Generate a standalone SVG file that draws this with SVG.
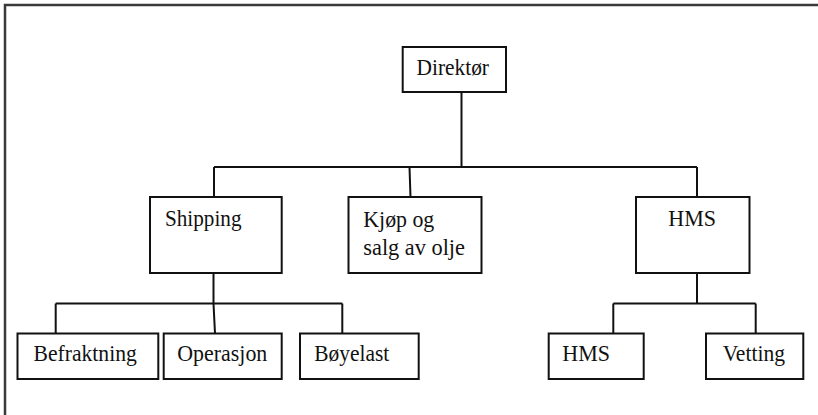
<svg xmlns="http://www.w3.org/2000/svg" width="818" height="415" viewBox="0 0 818 415">
<style>
.box{fill:#fff;stroke:#111;stroke-width:2}
.t{font-family:'Liberation Serif','Times New Roman',serif;font-size:24px;fill:#111}
.c{fill:none;stroke:#111;stroke-width:2}
</style>
<rect x="0" y="0" width="818" height="415" fill="#fff"/>
<rect x="5" y="5" width="830" height="430" fill="none" stroke="#3a3a3a" stroke-width="2.5"/>
<g id="connectors">
<path class="c" d="M461.5 92V167M214 167H697M214 167V197M409.5 167L410.5 197M697 167V197"/>
<path class="c" d="M213.5 273V303.5M55.7 303.5H342.3M55.7 303.5V333.5M213.5 303.5L215 333.5M342.3 303.5V333.5"/>
<path class="c" d="M697 273V303.5M613.3 303.5H755.7M613.3 303.5V333.5M755.7 303.5V333.5"/>
</g>
<g id="direktor"><rect class="box" x="402.7" y="47" width="103.3" height="45"/><text class="t" x="416.5" y="75" textLength="72.5" lengthAdjust="spacingAndGlyphs">Direktør</text></g>
<g id="shipping"><rect class="box" x="150" y="197" width="131.7" height="76"/><text class="t" x="165" y="226" textLength="76.5" lengthAdjust="spacingAndGlyphs">Shipping</text></g>
<g id="kjop"><rect class="box" x="348.5" y="197" width="133" height="76"/><text class="t" x="363.3" y="226.5" textLength="71" lengthAdjust="spacingAndGlyphs">Kjøp og</text><text class="t" x="363.3" y="255" textLength="101.7" lengthAdjust="spacingAndGlyphs">salg av olje</text></g>
<g id="hms"><rect class="box" x="636" y="197" width="113.5" height="76"/><text class="t" x="668.3" y="226" textLength="47.7" lengthAdjust="spacingAndGlyphs">HMS</text></g>
<g id="befraktning"><rect class="box" x="17.5" y="333.5" width="140.8" height="45.5"/><text class="t" x="33.5" y="361" textLength="103.3" lengthAdjust="spacingAndGlyphs">Befraktning</text></g>
<g id="operasjon"><rect class="box" x="163.7" y="333.5" width="118" height="45.5"/><text class="t" x="177.3" y="361" textLength="90" lengthAdjust="spacingAndGlyphs">Operasjon</text></g>
<g id="boyelast"><rect class="box" x="300" y="333.5" width="118.7" height="45.5"/><text class="t" x="314.3" y="361" textLength="75" lengthAdjust="spacingAndGlyphs">Bøyelast</text></g>
<g id="hms2"><rect class="box" x="548.7" y="333.5" width="95" height="45.5"/><text class="t" x="562.3" y="361" textLength="47.7" lengthAdjust="spacingAndGlyphs">HMS</text></g>
<g id="vetting"><rect class="box" x="706" y="333.5" width="97.3" height="45.5"/><text class="t" x="722.7" y="361" textLength="62.3" lengthAdjust="spacingAndGlyphs">Vetting</text></g>
</svg>
